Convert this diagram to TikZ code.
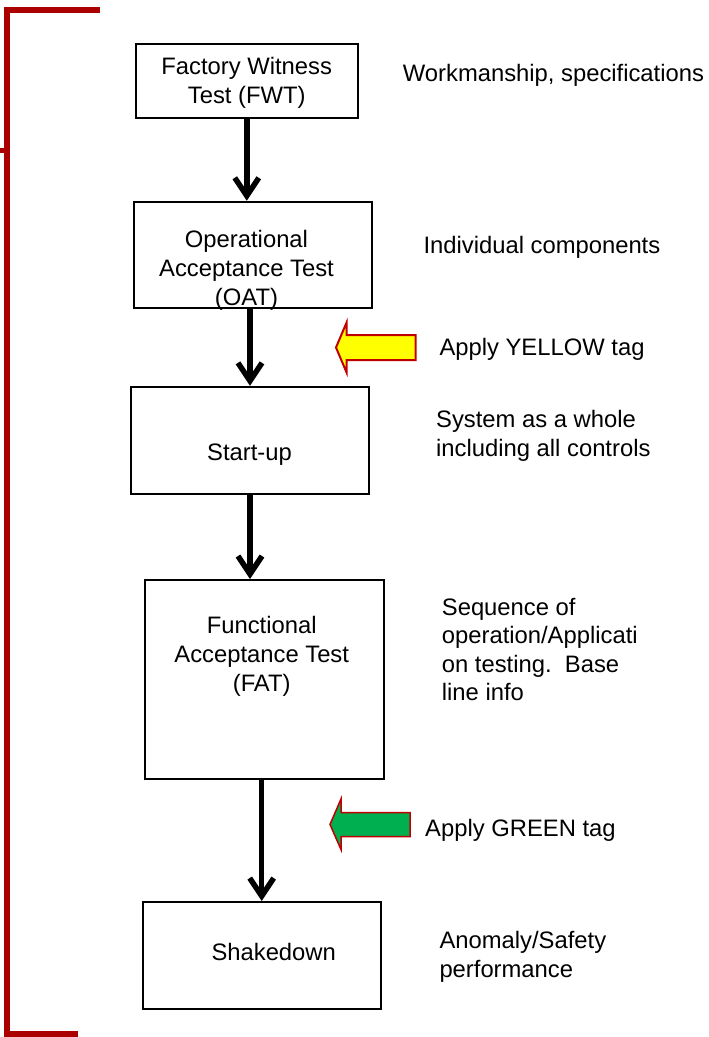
\documentclass[tikz,border=0pt]{standalone}
\usepackage{fontspec}
\setmainfont{Liberation Sans}
\usetikzlibrary{arrows.meta,positioning}
\definecolor{bracketred}{HTML}{AA0000}
\definecolor{tagred}{HTML}{C00000}
\definecolor{tagyellow}{HTML}{FFFF00}
\definecolor{taggreen}{HTML}{00B050}
\tikzset{
  stage/.style={draw=black, line width=2pt, inner sep=0pt},
  flow/.style={-{Straight Barb[length=18pt, width=24pt]}, line width=5.5pt, black},
  boxtext/.style={font=\fontsize{23.8}{28.7}\selectfont, align=center, anchor=base, inner sep=0pt},
  note/.style={font=\fontsize{23.8}{28.5}\selectfont, align=left, anchor=base west, inner sep=0pt},
  bracket/.style={draw=bracketred, line width=6pt},
  tag/.style={draw=tagred, line width=2pt, line join=miter}
}
\begin{document}
\begin{tikzpicture}[x=1pt, y=-1pt]
\useasboundingbox (0,0) rectangle (709,1037);

% bracket
\draw[bracket] (100,9.7) -| (7,1034) -- (78,1034);
\draw[bracketred, line width=5pt] (0,150.5) -- (4,150.5);

% boxes
\node[stage, minimum width=222pt, minimum height=74pt] (fwt) at (246.8,80.8) {};
\node[stage, minimum width=238pt, minimum height=106.5pt] (oat) at (253,255) {};
\node[stage, minimum width=238pt, minimum height=107pt] (startup) at (250,440.3) {};
\node[stage, minimum width=239pt, minimum height=199pt] (fat) at (264.5,679.5) {};
\node[stage, minimum width=238pt, minimum height=107pt] (shake) at (261.7,955.5) {};

% box texts (base = last line)
\node[boxtext] (fwtname) at (246.7,103) {Factory Witness\\Test (FWT)};
\node[boxtext] (oatname) at (246.5,305) {Operational\\Acceptance Test\\(OAT)};
\node[boxtext] (startupname) at (249.5,460) {Start-up};
\node[boxtext] (fatname) at (261.7,691) {Functional\\Acceptance Test\\(FAT)};
\node[boxtext] (shakename) at (273.7,960) {Shakedown};

% arrows
\draw[flow] (fwt.south) -- (fwt.south |- oat.north);
\draw[flow] (startup.north |- oat.south) -- (startup.north);
\draw[flow] (startup.south) -- (startup.south |- fat.north);
\draw[flow] (shake.north |- fat.south) -- (shake.north);

% tags
\filldraw[tag, fill=tagyellow] (336,347.5) -- (346.5,322.7) -- (346.5,335) -- (415.7,335)
  -- (415.7,360) -- (346.5,360) -- (346.5,372.3) -- cycle;
\filldraw[tag, line width=1.5pt, fill=taggreen] (330,824.4) -- (341,799) -- (341,812.5)
  -- (410,812.5) -- (410,836.5) -- (341,836.5) -- (341,849.5) -- cycle;

% notes (base = last line)
\node[note] (fwtnote) at (402.7,81.7) {Workmanship, specifications};
\node[note] (oatnote) at (423.3,253.3) {Individual components};
\node[note] (yellownote) at (439.3,355) {Apply YELLOW tag};
\node[note] (startupnote) at (436,456) {System as a whole\\including all controls};
\node[note] (fatnote) at (441.7,700.7) {Sequence of\\operation/Applicati\\on testing.\ \ Base\\line info};
\node[note] (greennote) at (425,836) {Apply GREEN tag};
\node[note] (shakenote) at (439.3,977.3) {Anomaly/Safety\\performance};

\end{tikzpicture}
\end{document}
